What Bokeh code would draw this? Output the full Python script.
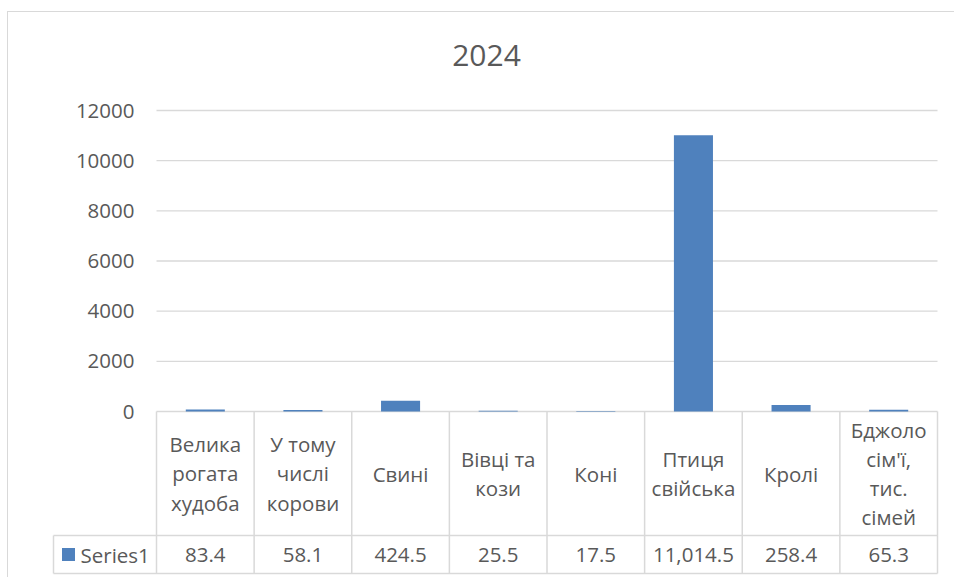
from bokeh.plotting import figure
from bokeh.models import Range1d, ColumnDataSource
from bokeh.core.properties import value
from bokeh.embed import file_html
from bokeh.resources import INLINE

# ---- data ----
title_text = "2024"
categories = [
    "Велика\nрогата\nхудоба",
    "У тому\nчислі\nкорови",
    "Свині",
    "Вівці та\nкози",
    "Коні",
    "Птиця\nсвійська",
    "Кролі",
    "Бджоло\nсім'ї,\nтис.\nсімей",
]
values = [83.4, 58.1, 424.5, 25.5, 17.5, 11014.5, 258.4, 65.3]
series_name = "Series1"
y_ticks = [0, 2000, 4000, 6000, 8000, 10000, 12000]

FONT = "Open Sans"
TXT = "#595959"
GRID = "#d9d9d9"
BAR = "#4f81bd"
FS = "20.5px"

n = len(categories)
xs = [i + 0.5 for i in range(n)]
labels = [f"{v:,.1f}" for v in values]

# ---- layout geometry (pixels) ----
W, H = 954, 577
FRAME_L, FRAME_R, FRAME_T, FRAME_B = 51, 939, 12, 576
PLOT_L, PLOT_R = 156, 937          # category area
ZERO_Y, TOP_Y = 411, 110           # pixel rows of 0 and of the top tick
PX = (PLOT_R - PLOT_L) / n         # px per category
K = y_ticks[-1] / (ZERO_Y - TOP_Y) # data units per px

p = figure(
    width=W, height=H,
    output_backend="svg", toolbar_location=None,
    x_range=Range1d(-(PLOT_L - FRAME_L) / PX, n + (FRAME_R - PLOT_R) / PX),
    y_range=Range1d(-(FRAME_B - ZERO_Y) * K, y_ticks[-1] + (TOP_Y - FRAME_T) * K),
    x_axis_location=None, y_axis_location=None,
    min_border_left=FRAME_L, min_border_right=W - FRAME_R,
    min_border_top=FRAME_T, min_border_bottom=H - FRAME_B,
)
# table / layout coordinates: pixels measured upward from the zero line
p.extra_y_ranges = {"tbl": Range1d(-(FRAME_B - ZERO_Y), ZERO_Y - FRAME_T)}
p.outline_line_color = None
p.xgrid.visible = False
p.ygrid.visible = False
p.background_fill_color = "white"
p.border_fill_color = None
p.styles = {
    "background": "linear-gradient(#d9d9d9,#d9d9d9) 7px 11px / 1px calc(100% - 11px) no-repeat, "
                  "linear-gradient(#d9d9d9,#d9d9d9) 7px 11px / calc(100% - 7px) 1px no-repeat"
}

def px_x(px):
    return (px - PLOT_L) / PX

# title
p.text(x=[px_x(486)], y=[ZERO_Y - 54.5], text=[title_text], y_range_name="tbl",
       text_align="center", text_baseline="middle",
       text_font=value(FONT), text_font_size="30px", text_color=TXT)

# gridlines and y tick labels
p.segment(x0=[0] * len(y_ticks), x1=[n] * len(y_ticks), y0=y_ticks, y1=y_ticks,
          line_color=GRID, line_width=1.4)
p.text(x=[px_x(134)] * len(y_ticks), y=y_ticks, text=[str(t) for t in y_ticks],
       text_align="right", text_baseline="middle",
       text_font=value(FONT), text_font_size=FS, text_color=TXT)

# bars
src = ColumnDataSource(dict(x=xs, top=values, cat=categories, lbl=labels))
p.vbar(x="x", top="top", bottom=0, width=0.4, source=src,
       fill_color=BAR, line_color=None)

# data table
ROW_DIV, ROW_BOT = -124, -162
key_left = px_x(53)
vx = list(range(n + 1))
p.segment(x0=vx, x1=vx, y0=[0] * (n + 1), y1=[ROW_BOT] * (n + 1),
          y_range_name="tbl", line_color=GRID, line_width=1.5)
p.segment(x0=[key_left, key_left, key_left], x1=[key_left, n, n],
          y0=[ROW_DIV, ROW_DIV, ROW_BOT], y1=[ROW_BOT, ROW_DIV, ROW_BOT],
          y_range_name="tbl", line_color=GRID, line_width=1.5)

p.text(x="x", y=ROW_DIV / 2, text="cat", source=src, y_range_name="tbl",
       text_align="center", text_baseline="middle",
       text_font=value(FONT), text_font_size=FS, text_color=TXT,
       text_line_height=1.04)
val_mid = (ROW_DIV + ROW_BOT) / 2
p.text(x="x", y=val_mid, text="lbl", source=src, y_range_name="tbl",
       text_align="center", text_baseline="middle",
       text_font=value(FONT), text_font_size=FS, text_color=TXT)

# legend key
p.scatter(x=[px_x(68)], y=[val_mid], y_range_name="tbl", marker="square", size=13,
          fill_color=BAR, line_color=None)
p.text(x=[px_x(80)], y=[val_mid], text=[series_name], y_range_name="tbl",
       text_align="left", text_baseline="middle",
       text_font=value(FONT), text_font_size=FS, text_color=TXT)

open("out.html", "w").write(file_html(p, INLINE))
